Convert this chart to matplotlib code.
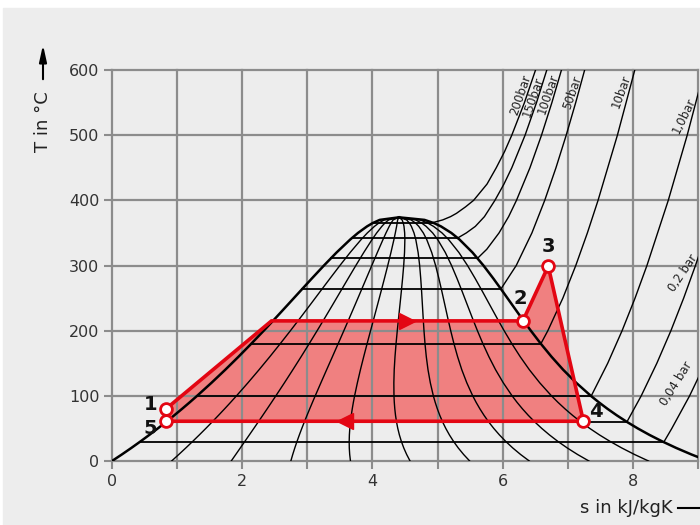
import numpy as np
import matplotlib
matplotlib.use('Agg')
from matplotlib import pyplot as plt
from matplotlib.patches import Rectangle
from matplotlib.lines import Line2D

# saturation table of water (T in C, s in kJ/kgK)
sat_T = [0.01, 10, 20, 30, 40, 50, 60, 70, 80, 90, 100, 120, 140, 160, 180,
         200, 220, 240, 260, 280, 300, 320, 340, 350, 360, 365, 370, 373.95]
sat_sf = [0.0, 0.1511, 0.2965, 0.4368, 0.5724, 0.7038, 0.8313, 0.9551, 1.0756,
          1.1929, 1.3072, 1.5279, 1.7392, 1.9426, 2.1392, 2.3305, 2.5177, 2.7020,
          2.8849, 3.0685, 3.2552, 3.4494, 3.6601, 3.7784, 3.9167, 4.0014, 4.1119, 4.4070]
sat_sg = [9.1556, 8.8998, 8.6660, 8.4520, 8.2555, 8.0748, 7.9081, 7.7540, 7.6111,
          7.4781, 7.3541, 7.1296, 6.9294, 6.7502, 6.5857, 6.4323, 6.2861, 6.1437,
          6.0019, 5.8571, 5.7049, 5.5362, 5.3357, 5.2112, 5.0526, 4.9463, 4.7996, 4.4070]
qualities = [0.1, 0.2, 0.3, 0.4, 0.5, 0.6, 0.7, 0.8, 0.9]

# isobars, first point = saturated vapour
iso_names = ['200bar', '150bar', '100bar', '50bar', '10bar', '1,0bar', '0,2 bar', '0,04 bar']
iso_sf = [4.0139, 3.6848, 3.3596, 2.9202, 2.1387, 1.3026, 0.8320, 0.4226]
iso_T = [
    [365.81, 370, 375, 380, 390, 400, 425, 450, 475, 500, 550, 600],
    [342.24, 350, 360, 375, 400, 425, 450, 500, 550, 600],
    [311.06, 325, 350, 375, 400, 450, 500, 550, 600],
    [263.99, 300, 350, 400, 450, 500, 550, 600],
    [179.91, 200, 250, 300, 350, 400, 500, 600],
    [99.63, 150, 200, 250, 300, 400, 500, 600],
    [60.06, 100, 150, 200, 250, 300, 350],
    [28.96, 50, 100, 150],
]
iso_s = [
    [4.9269, 5.08, 5.20, 5.29, 5.43, 5.5540, 5.76, 5.9017, 6.03, 6.1401, 6.3348, 6.5048],
    [5.3098, 5.4421, 5.58, 5.72, 5.8811, 6.02, 6.1404, 6.3443, 6.5199, 6.6776],
    [5.6141, 5.7568, 5.9443, 6.0917, 6.2120, 6.4190, 6.5966, 6.7561, 6.9029],
    [5.9734, 6.2084, 6.4493, 6.6459, 6.8186, 6.9759, 7.1217, 7.2589],
    [6.5865, 6.6940, 6.9247, 7.1229, 7.3011, 7.4651, 7.7622, 8.0290],
    [7.3594, 7.6134, 7.8343, 8.0333, 8.2158, 8.5435, 8.8342, 9.0976],
    [7.9085, 8.128, 8.368, 8.584, 8.780, 8.961, 9.13],
    [8.4746, 8.598, 8.871, 9.111],
]
label_s = [6.27, 6.47, 6.70, 7.07, 7.82, 8.79, 8.77, 8.66]
label_T = [561, 558, 563, 566, 567, 529, 288, 118]
label_rot = [71, 71, 71, 71, 70, 64, 56, 58]

# cycle
cycle_s = [0.83, 2.45, 6.31, 6.70, 7.24, 0.83, 0.83]
cycle_T = [80, 215, 215, 299, 61, 61, 80]
pts_s = [0.83, 6.31, 6.70, 7.24, 0.83]
pts_T = [80, 215, 299, 61, 61]
pts_names = ['1', '2', '3', '4', '5']
name_s = [0.60, 6.27, 6.70, 7.43, 0.58]
name_T = [87, 250, 329, 76, 50]

red = '#e30613'
bg = '#ededed'

fig = plt.figure(figsize=(7, 5.25), dpi=100)
fig.patch.set_facecolor('white')
fig.patches.append(Rectangle((3/700, 0), 1, 517/525, transform=fig.transFigure,
                             color=bg, zorder=-10))
ax = fig.add_axes([112/700, 64/525, 586/700, 391/525])
ax.set_facecolor(bg)
ax.set_xlim(0, 9)
ax.set_ylim(0, 600)
for sp in ax.spines.values():
    sp.set_visible(False)
ax.set_xticks(range(0, 10))
ax.set_xticklabels([str(i) if i % 2 == 0 and i < 9 else '' for i in range(10)])
ax.set_yticks(range(0, 700, 100))
ax.tick_params(length=6, width=1.5, color='#8c8c8c', pad=3, labelsize=11.5,
               labelcolor='#333333')
ax.set_axisbelow(False)
ax.grid(True, color='#8c8c8c', lw=1.6, zorder=1.5, clip_on=False)

# cycle fill
ax.fill(cycle_s, cycle_T, color='#f08080', lw=0, zorder=1)

sf = np.array(sat_sf)
sg = np.array(sat_sg)
for q in qualities:
    ax.plot(sf + q * (sg - sf), sat_T, color='black', lw=1.0, zorder=3)
for i in range(len(iso_names)):
    ax.plot([iso_sf[i], iso_s[i][0]], [iso_T[i][0], iso_T[i][0]],
            color='black', lw=1.3, zorder=3)
    ax.plot(iso_s[i], iso_T[i], color='black', lw=1.0, zorder=3)
    ax.text(label_s[i], label_T[i], iso_names[i], rotation=label_rot[i],
            ha='center', va='center', fontsize=8.5, color='#222222', zorder=4,
            rotation_mode='anchor')
ax.plot(sat_sf, sat_T, color='black', lw=1.8, zorder=3)
ax.plot(sat_sg, sat_T, color='black', lw=1.8, zorder=3)

ax.plot(cycle_s, cycle_T, color=red, lw=2.6, zorder=5, solid_joinstyle='miter')
ax.plot([4.53], [215], marker='>', color=red, ms=12, zorder=5)
ax.plot([3.58], [61], marker='<', color=red, ms=12, zorder=5)
ax.plot(pts_s, pts_T, 'o', ms=8.5, mfc='white', mec=red, mew=2, zorder=6)
for i in range(len(pts_names)):
    ax.text(name_s[i], name_T[i], pts_names[i], ha='center', va='center',
            fontsize=14, fontweight='bold', color='#111111', zorder=7)

# axis titles with arrows
fig.text(43/700, 1 - 122/525, 'T in °C', rotation=90, ha='center', va='center',
         fontsize=13, color='#222222')
ax.annotate('', xy=(43, 525-42), xytext=(43, 525-82), xycoords='figure pixels',
            textcoords='figure pixels',
            arrowprops=dict(arrowstyle='-|>,head_length=1.0,head_width=0.22',
                            color='black', lw=1.5))
fig.text(673/700, 1 - 508/525, 's in kJ/kgK', ha='right', va='center',
         fontsize=13, color='#222222')
fig.lines.append(Line2D([678/700, 1.0], [17/525, 17/525], transform=fig.transFigure,
                        color='black', lw=1.5))

fig.savefig('out.png', dpi=100, facecolor=fig.get_facecolor())
